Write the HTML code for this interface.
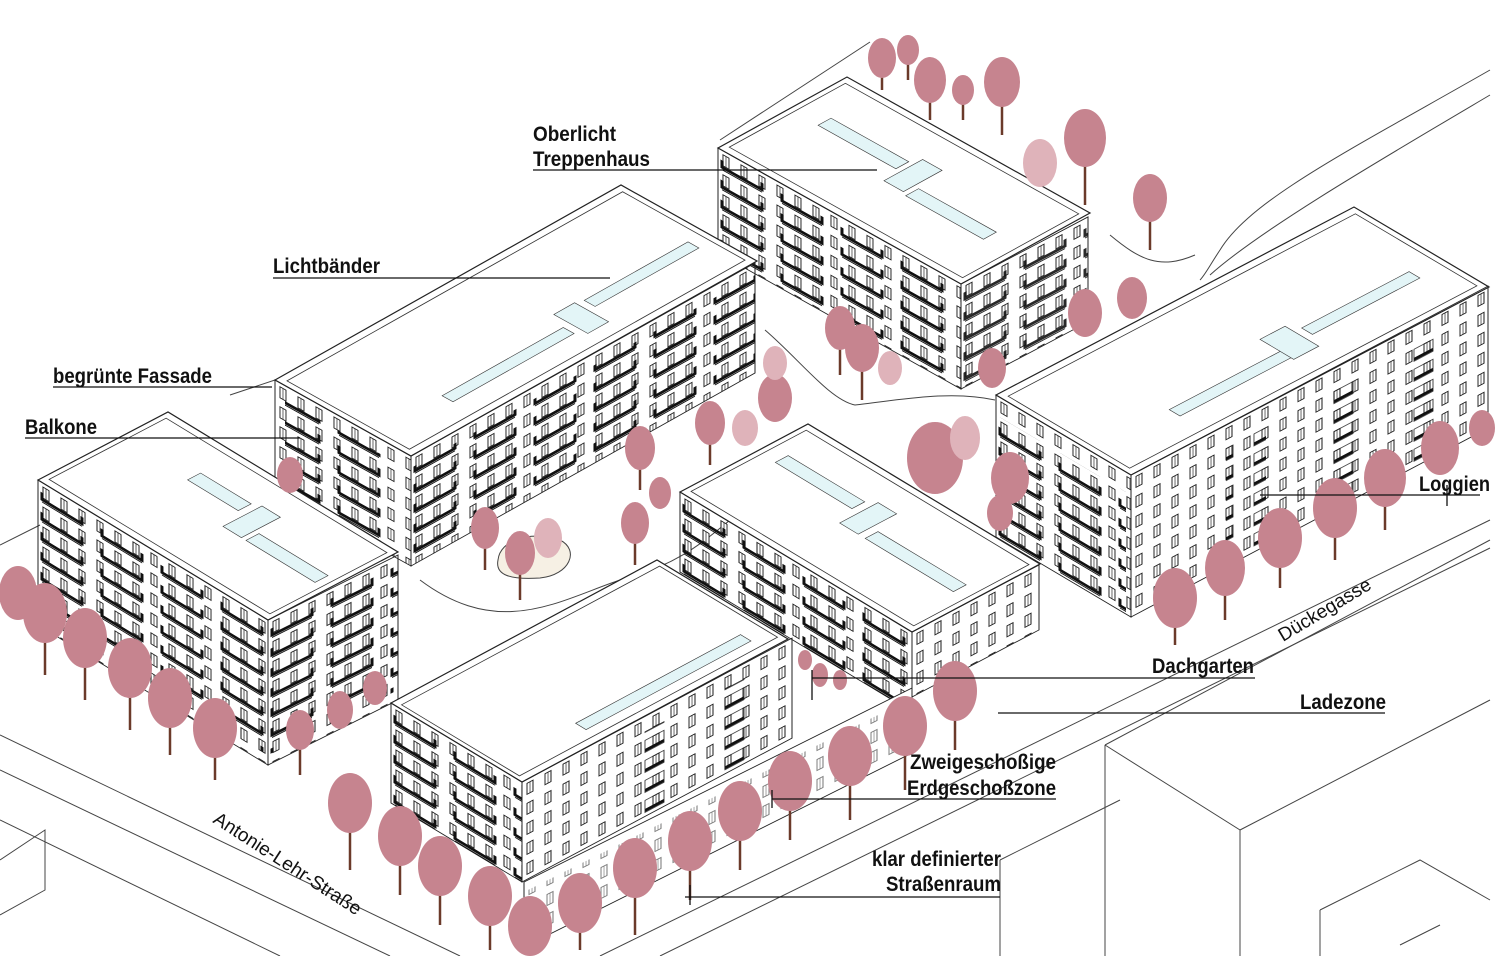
<!DOCTYPE html>
<html><head><meta charset="utf-8"><style>
html,body{margin:0;padding:0;background:#fff;}
svg{display:block}
.lb{font-family:"Liberation Sans Narrow","Liberation Sans",sans-serif;font-weight:bold;font-size:21px;fill:#111}
.st{font-family:"Liberation Sans",sans-serif;font-size:19px;fill:#111}
</style></head><body>
<svg width="1500" height="956" viewBox="0 0 1500 956" xmlns="http://www.w3.org/2000/svg">
<defs>
<pattern id="win" width="18" height="20" patternUnits="userSpaceOnUse">
<rect x="5" y="4" width="6" height="11" fill="#fff" stroke="#222" stroke-width="1"/>
<line x1="8" y1="4" x2="8" y2="15" stroke="#222" stroke-width="0.7"/>
</pattern>
<pattern id="balc" width="60" height="20" patternUnits="userSpaceOnUse">
<path d="M4 10 V17 H44 V10" fill="none" stroke="#111" stroke-width="3"/>
<path d="M4 19.5 H44" stroke="#111" stroke-width="1.2"/>
</pattern>
<pattern id="logg" width="40" height="20" patternUnits="userSpaceOnUse">
<path d="M3 14 H22" stroke="#111" stroke-width="3"/>
<rect x="3" y="4" width="19" height="12" fill="none" stroke="#222" stroke-width="0.8"/>
</pattern>
</defs>

<g stroke="#444" stroke-width="1" fill="none">
<path d="M720 140 L870 42"/>
<path d="M230 395 L275 380"/>
<path d="M1490 70 C1350 150 1250 200 1220 250 C1210 265 1205 275 1200 280"/>
<path d="M1490 95 C1380 160 1260 230 1210 275"/>
<path d="M1110 235 C1140 260 1160 270 1195 255"/>
<path d="M0 735 L460 956"/>
<path d="M0 770 L390 956"/>
<path d="M0 820 L280 956"/>
<path d="M0 545 L40 525"/>
<path d="M600 956 L1490 520"/>
<path d="M660 956 L1490 548"/>
<path d="M1105 745 L1490 540"/>
<path d="M1105 745 L1105 956"/>
<path d="M1105 745 L1240 830 L1240 956"/>
<path d="M1240 830 L1490 700"/>
<path d="M1000 860 L1120 800"/>
<path d="M1000 860 L1000 956"/>
<path d="M1320 910 L1420 860 L1490 900"/>
<path d="M1320 910 L1320 956"/>
<path d="M1400 945 L1440 925"/>
<path d="M0 860 L45 830 L45 890 L0 915"/>
<path d="M420 580 C500 640 560 600 620 580 C700 560 720 520 760 500"/>
<path d="M765 330 C800 360 830 400 855 405 C900 400 950 390 995 400"/>
<path d="M498 560 C500 540 530 530 560 540 C580 550 570 575 540 578 C510 580 495 575 498 560Z" fill="#f6f0e4"/>
</g>

<g transform="matrix(243,136,129,-71,718,148)">
<rect x="0" y="0" width="1" height="1" fill="#fff" stroke="#222" stroke-width="1.2" vector-effect="non-scaling-stroke"/>
<rect x="0.02" y="0.05" width="0.96" height="0.9" fill="none" stroke="#333" stroke-width="0.8" vector-effect="non-scaling-stroke"/>
<rect x="0.12" y="0.55" width="0.32" height="0.1" fill="#e3f5f7" stroke="#333" stroke-width="0.6" vector-effect="non-scaling-stroke"/>
<rect x="0.46" y="0.42" width="0.08" height="0.3" fill="#e3f5f7" stroke="#333" stroke-width="0.6" vector-effect="non-scaling-stroke"/>
<rect x="0.56" y="0.4" width="0.32" height="0.1" fill="#e3f5f7" stroke="#333" stroke-width="0.6" vector-effect="non-scaling-stroke"/>
</g>
<g transform="matrix(1,0.56,0,1,718,148)"><rect width="243" height="105" fill="url(#win)" stroke="#222"/><rect x="0" y="10" width="243" height="95" fill="url(#balc)"/></g>
<g transform="matrix(1,-0.528,0,1,961,284)"><rect width="127" height="105" fill="url(#win)" stroke="#222"/><rect x="0" y="10" width="127" height="95" fill="url(#balc)" opacity="0.9"/></g>

<g transform="matrix(346,-195,136,76,275,380)">
<rect x="0" y="0" width="1" height="1" fill="#fff" stroke="#222" stroke-width="1.2" vector-effect="non-scaling-stroke"/>
<rect x="0.015" y="0.05" width="0.97" height="0.9" fill="none" stroke="#333" stroke-width="0.8" vector-effect="non-scaling-stroke"/>
<rect x="0.2" y="0.72" width="0.35" height="0.08" fill="#e3f5f7" stroke="#333" stroke-width="0.6" vector-effect="non-scaling-stroke"/>
<rect x="0.57" y="0.6" width="0.06" height="0.25" fill="#e3f5f7" stroke="#333" stroke-width="0.6" vector-effect="non-scaling-stroke"/>
<rect x="0.65" y="0.62" width="0.3" height="0.08" fill="#e3f5f7" stroke="#333" stroke-width="0.6" vector-effect="non-scaling-stroke"/>
</g>
<g transform="matrix(1,0.559,0,1,275,380)"><rect width="136" height="110" fill="url(#win)" stroke="#222"/><rect x="10" y="15" width="110" height="95" fill="url(#balc)"/></g>
<g transform="matrix(1,-0.561,0,1,411,456)"><rect width="344" height="110" fill="url(#win)" stroke="#222"/><rect x="0" y="12" width="344" height="98" fill="url(#balc)"/></g>

<g transform="matrix(358,-188,135,80,996,395)">
<rect x="0" y="0" width="1" height="1" fill="#fff" stroke="#222" stroke-width="1.2" vector-effect="non-scaling-stroke"/>
<rect x="0.015" y="0.05" width="0.97" height="0.9" fill="none" stroke="#333" stroke-width="0.8" vector-effect="non-scaling-stroke"/>
<rect x="0.22" y="0.7" width="0.32" height="0.08" fill="#e3f5f7" stroke="#333" stroke-width="0.6" vector-effect="non-scaling-stroke"/>
<rect x="0.53" y="0.55" width="0.07" height="0.25" fill="#e3f5f7" stroke="#333" stroke-width="0.6" vector-effect="non-scaling-stroke"/>
<rect x="0.62" y="0.62" width="0.3" height="0.08" fill="#e3f5f7" stroke="#333" stroke-width="0.6" vector-effect="non-scaling-stroke"/>
</g>
<g transform="matrix(1,0.593,0,1,996,395)"><rect width="135" height="142" fill="url(#win)" stroke="#222"/><rect x="0" y="20" width="130" height="120" fill="url(#balc)"/></g>
<g transform="matrix(1,-0.529,0,1,1131,475)"><rect width="357" height="142" fill="url(#win)" stroke="#222"/><rect x="95" y="20" width="40" height="120" fill="url(#logg)"/><rect x="185" y="20" width="40" height="120" fill="url(#logg)"/><rect x="275" y="20" width="40" height="120" fill="url(#logg)"/></g>

<g transform="matrix(232,140,128,-68,680,492)">
<rect x="0" y="0" width="1" height="1" fill="#fff" stroke="#222" stroke-width="1.2" vector-effect="non-scaling-stroke"/>
<rect x="0.02" y="0.05" width="0.96" height="0.9" fill="none" stroke="#333" stroke-width="0.8" vector-effect="non-scaling-stroke"/>
<rect x="0.08" y="0.6" width="0.33" height="0.1" fill="#e3f5f7" stroke="#333" stroke-width="0.6" vector-effect="non-scaling-stroke"/>
<rect x="0.44" y="0.45" width="0.08" height="0.3" fill="#e3f5f7" stroke="#333" stroke-width="0.6" vector-effect="non-scaling-stroke"/>
<rect x="0.55" y="0.45" width="0.38" height="0.1" fill="#e3f5f7" stroke="#333" stroke-width="0.6" vector-effect="non-scaling-stroke"/>
</g>
<g transform="matrix(1,0.603,0,1,680,492)"><rect width="232" height="80" fill="url(#win)" stroke="#222"/><rect x="0" y="8" width="232" height="72" fill="url(#balc)"/></g>
<g transform="matrix(1,-0.528,0,1,912,632)"><rect width="127" height="65" fill="url(#win)" stroke="#222"/></g>

<g transform="matrix(230,140,130,-68,38,480)">
<rect x="0" y="0" width="1" height="1" fill="#fff" stroke="#222" stroke-width="1.2" vector-effect="non-scaling-stroke"/>
<rect x="0.02" y="0.05" width="0.96" height="0.9" fill="none" stroke="#333" stroke-width="0.8" vector-effect="non-scaling-stroke"/>
<rect x="0.3" y="0.62" width="0.22" height="0.1" fill="#e3f5f7" stroke="#333" stroke-width="0.6" vector-effect="non-scaling-stroke"/>
<rect x="0.55" y="0.45" width="0.08" height="0.3" fill="#e3f5f7" stroke="#333" stroke-width="0.6" vector-effect="non-scaling-stroke"/>
<rect x="0.65" y="0.45" width="0.3" height="0.1" fill="#e3f5f7" stroke="#333" stroke-width="0.6" vector-effect="non-scaling-stroke"/>
</g>
<g transform="matrix(1,0.609,0,1,38,480)"><rect width="230" height="145" fill="url(#win)" stroke="#222"/><rect x="0" y="10" width="230" height="125" fill="url(#balc)"/></g>
<g transform="matrix(1,-0.5,0,1,268,620)"><rect width="130" height="145" fill="url(#win)" stroke="#222"/><rect x="0" y="10" width="130" height="125" fill="url(#balc)"/></g>

<g transform="matrix(1,-0.5,0,1,524,882)"><rect width="388" height="65" fill="#fff" stroke="#222"/><rect x="0" y="10" width="388" height="50" fill="url(#win)" opacity="0.6"/></g>

<g transform="matrix(266,-143,131,79,391,703)">
<rect x="0" y="0" width="1" height="1" fill="#fff" stroke="#222" stroke-width="1.2" vector-effect="non-scaling-stroke"/>
<rect x="0.015" y="0.05" width="0.97" height="0.9" fill="none" stroke="#333" stroke-width="0.8" vector-effect="non-scaling-stroke"/>
<rect x="0.3" y="0.8" width="0.62" height="0.08" fill="#e3f5f7" stroke="#333" stroke-width="0.6" vector-effect="non-scaling-stroke"/>
</g>
<g transform="matrix(1,0.603,0,1,391,703)"><rect width="131" height="100" fill="url(#win)" stroke="#222"/><rect x="0" y="10" width="131" height="90" fill="url(#balc)"/></g>
<g transform="matrix(1,-0.533,0,1,522,782)"><rect width="270" height="100" fill="url(#win)" stroke="#222"/><rect x="110" y="15" width="40" height="85" fill="url(#logg)"/><rect x="195" y="15" width="40" height="85" fill="url(#logg)"/></g>

<g stroke="#6b3a2a" stroke-width="2.5">
<path d="M882 60V90M908 55V80M930 85V120M963 95V120M1002 85V135M1085 140V205M1150 200V250M840 330V375M862 350V400M710 425V465M640 450V490M635 525V565M520 555V600M485 530V570M1175 600V645M1225 570V620M1280 540V588M1335 510V560M1385 480V530M45 615V675M85 640V700M130 670V730M170 700V755M215 735V780M300 735V775M350 805V870M400 840V895M440 870V925M490 900V950M580 905V950M635 870V935M690 845V900M740 815V870M790 785V840M850 760V820M905 730V790M955 695V750"/>
</g>
<g fill="#c6848f">
<ellipse cx="882" cy="58" rx="14" ry="20"/><ellipse cx="908" cy="50" rx="11" ry="15"/><ellipse cx="930" cy="80" rx="16" ry="23"/><ellipse cx="963" cy="90" rx="11" ry="15"/><ellipse cx="1002" cy="82" rx="18" ry="25"/><ellipse cx="1085" cy="138" rx="21" ry="29"/><ellipse cx="1150" cy="198" rx="17" ry="24"/><ellipse cx="1132" cy="298" rx="15" ry="21"/><ellipse cx="1085" cy="313" rx="17" ry="24"/><ellipse cx="992" cy="368" rx="14" ry="20"/><ellipse cx="840" cy="328" rx="15" ry="22"/><ellipse cx="862" cy="348" rx="17" ry="24"/><ellipse cx="775" cy="398" rx="17" ry="24"/><ellipse cx="710" cy="423" rx="15" ry="22"/><ellipse cx="640" cy="448" rx="15" ry="22"/><ellipse cx="660" cy="493" rx="11" ry="16"/><ellipse cx="635" cy="523" rx="14" ry="21"/><ellipse cx="520" cy="553" rx="15" ry="22"/><ellipse cx="485" cy="528" rx="14" ry="21"/><ellipse cx="935" cy="458" rx="28" ry="36"/><ellipse cx="1010" cy="478" rx="19" ry="26"/><ellipse cx="1000" cy="513" rx="13" ry="18"/>
<ellipse cx="1175" cy="598" rx="22" ry="30"/><ellipse cx="1225" cy="568" rx="20" ry="28"/><ellipse cx="1280" cy="538" rx="22" ry="30"/><ellipse cx="1335" cy="508" rx="22" ry="30"/><ellipse cx="1385" cy="478" rx="21" ry="29"/><ellipse cx="1440" cy="448" rx="19" ry="27"/><ellipse cx="1482" cy="428" rx="13" ry="18"/>
<ellipse cx="18" cy="593" rx="19" ry="27"/><ellipse cx="45" cy="613" rx="22" ry="30"/><ellipse cx="85" cy="638" rx="22" ry="30"/><ellipse cx="130" cy="668" rx="22" ry="30"/><ellipse cx="170" cy="698" rx="22" ry="30"/><ellipse cx="215" cy="728" rx="22" ry="30"/><ellipse cx="300" cy="730" rx="14" ry="20"/><ellipse cx="340" cy="710" rx="13" ry="19"/><ellipse cx="375" cy="688" rx="12" ry="17"/>
<ellipse cx="350" cy="803" rx="22" ry="30"/><ellipse cx="400" cy="836" rx="22" ry="30"/><ellipse cx="440" cy="866" rx="22" ry="30"/><ellipse cx="490" cy="896" rx="22" ry="30"/><ellipse cx="530" cy="926" rx="22" ry="30"/><ellipse cx="580" cy="903" rx="22" ry="30"/><ellipse cx="635" cy="868" rx="22" ry="30"/><ellipse cx="690" cy="841" rx="22" ry="30"/><ellipse cx="740" cy="811" rx="22" ry="30"/><ellipse cx="790" cy="781" rx="22" ry="30"/><ellipse cx="850" cy="756" rx="22" ry="30"/><ellipse cx="905" cy="726" rx="22" ry="30"/><ellipse cx="955" cy="691" rx="22" ry="30"/>
<ellipse cx="805" cy="660" rx="7" ry="10"/><ellipse cx="820" cy="675" rx="8" ry="12"/><ellipse cx="840" cy="680" rx="7" ry="10"/><ellipse cx="290" cy="475" rx="13" ry="18"/>
</g>
<g fill="#dfb3ba">
<ellipse cx="1040" cy="163" rx="17" ry="24"/><ellipse cx="890" cy="368" rx="12" ry="17"/><ellipse cx="745" cy="428" rx="13" ry="18"/><ellipse cx="548" cy="538" rx="14" ry="20"/><ellipse cx="965" cy="438" rx="15" ry="22"/><ellipse cx="775" cy="363" rx="12" ry="17"/>
</g>

<g stroke="#111" stroke-width="1.3">
<path d="M533 170H877"/><path d="M273 278H610"/><path d="M53 387H272"/><path d="M25 438H300"/>
<path d="M1260 495H1480M1447 485V506"/><path d="M812 678H1255M812 670V700"/><path d="M998 713H1385"/>
<path d="M772 799H1056M772 790V808"/><path d="M685 897H1000M690 885V905"/>
</g>
<g class="lb">
<text x="533" y="141" textLength="83" lengthAdjust="spacingAndGlyphs">Oberlicht</text>
<text x="533" y="166" textLength="117" lengthAdjust="spacingAndGlyphs">Treppenhaus</text>
<text x="273" y="273" textLength="107" lengthAdjust="spacingAndGlyphs">Lichtbänder</text>
<text x="53" y="383" textLength="159" lengthAdjust="spacingAndGlyphs">begrünte Fassade</text>
<text x="25" y="434" textLength="72" lengthAdjust="spacingAndGlyphs">Balkone</text>
<text x="1419" y="491" textLength="71" lengthAdjust="spacingAndGlyphs">Loggien</text>
<text x="1152" y="673" textLength="102" lengthAdjust="spacingAndGlyphs">Dachgarten</text>
<text x="1300" y="709" textLength="86" lengthAdjust="spacingAndGlyphs">Ladezone</text>
<text x="910" y="769" textLength="146" lengthAdjust="spacingAndGlyphs">Zweigeschoßige</text>
<text x="907" y="795" textLength="149" lengthAdjust="spacingAndGlyphs">Erdgeschoßzone</text>
<text x="872" y="866" textLength="129" lengthAdjust="spacingAndGlyphs">klar definierter</text>
<text x="886" y="891" textLength="115" lengthAdjust="spacingAndGlyphs">Straßenraum</text>
</g>
<text class="st" transform="translate(212,822) rotate(33)">Antonie-Lehr-Straße</text>
<text class="st" transform="translate(1283,642) rotate(-31)">Dückegasse</text>
</svg>
</body></html>
